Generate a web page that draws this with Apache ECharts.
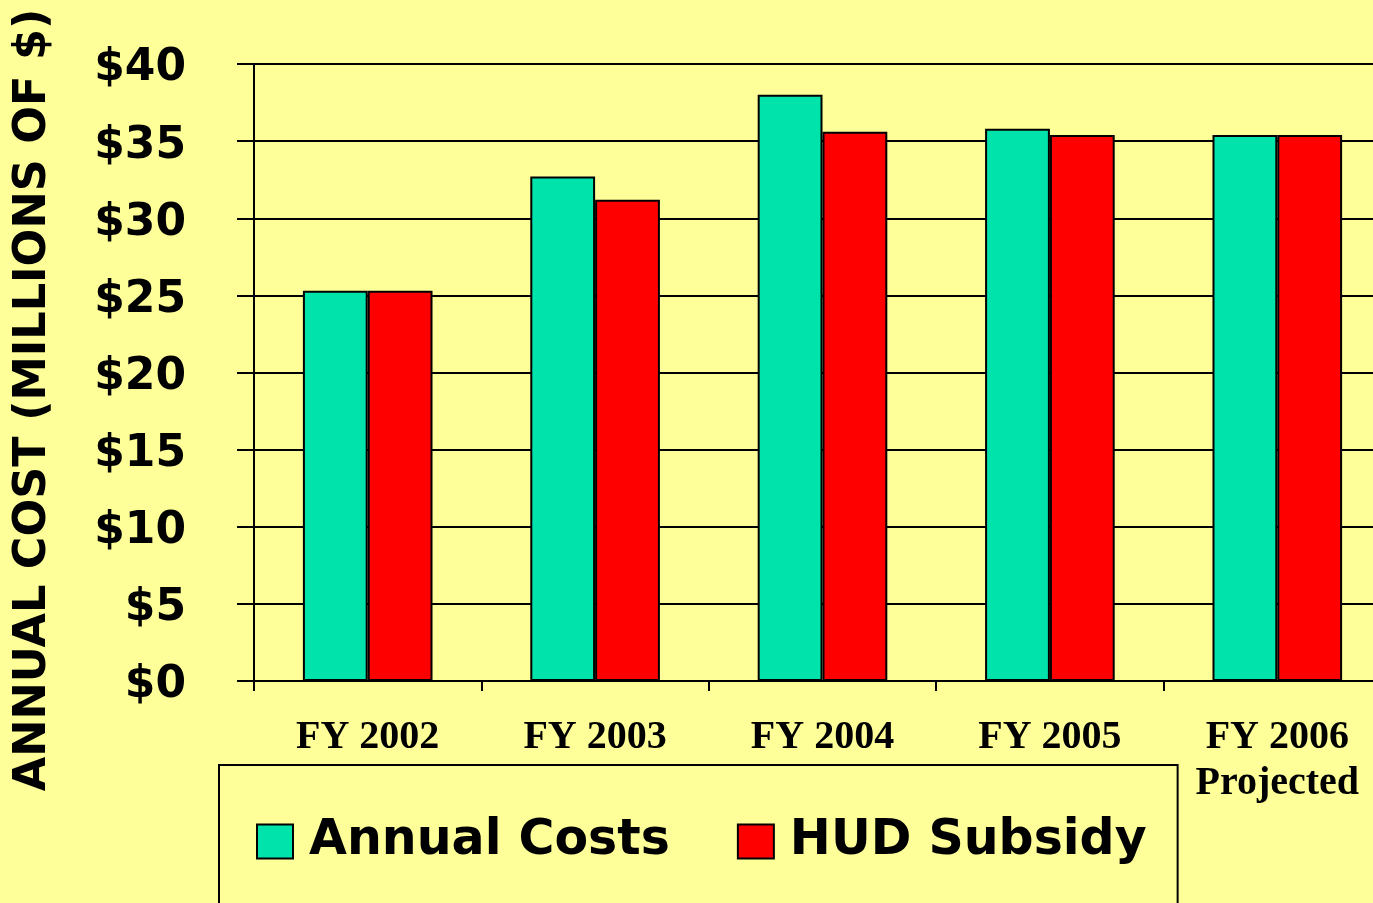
<!DOCTYPE html>
<html>
<head>
<meta charset="utf-8">
<script src="https://cdn.jsdelivr.net/npm/echarts@6/dist/echarts.min.js"></script>
<style>
  html, body { margin: 0; padding: 0; background: #ffff99; }
  #main { width: 1373px; height: 903px; }
</style>
</head>
<body>
<div id="main"></div>
<script>
// data (millions of $)
var categories = ["FY 2002", "FY 2003", "FY 2004", "FY 2005", "FY 2006\nProjected"];
var annualCosts = [25.3, 32.7, 38.0, 35.8, 35.4];
var hudSubsidy = [25.3, 31.2, 35.6, 35.4, 35.4];
var yTicks = [0, 5, 10, 15, 20, 25, 30, 35, 40];

var myChart = echarts.init(document.getElementById("main"));
var option = {
  backgroundColor: "#ffff99",
  animation: false,
  grid: {
    left: 254,
    top: 64,
    bottom: 222,
    width: 1137,
    containLabel: false,
    outerBoundsMode: "none",
  },
  legend: {
    left: 219,
    top: 765,
    orient: "horizontal",
    backgroundColor: "#ffff99",
    borderColor: "#000",
    borderWidth: 2,
    borderRadius: 0,
    padding: [52, 31, 80, 37],
    itemGap: 67,
    itemWidth: 36,
    itemHeight: 34,
    icon: "rect",
    textStyle: {
      fontFamily: "DejaVu Sans",
      fontWeight: "bold",
      fontSize: 49,
      color: "#000",
      padding: [0, 0, 0, 11],
    },
    data: ["Annual Costs", "HUD Subsidy"],
  },
  xAxis: {
    type: "category",
    data: categories,
    axisLine: { lineStyle: { color: "#000", width: 2 } },
    axisTick: { show: true, length: 10, lineStyle: { color: "#000", width: 2 } },
    axisLabel: {
      margin: 34,
      fontFamily: "Liberation Serif",
      fontWeight: "bold",
      fontSize: 40,
      lineHeight: 46,
      color: "#000",
    },
  },
  yAxis: {
    type: "value",
    min: yTicks[0],
    max: yTicks[yTicks.length - 1],
    interval: 5,
    axisLine: { show: true, lineStyle: { color: "#000", width: 2 } },
    axisTick: { show: true, length: 17, lineStyle: { color: "#000", width: 2 } },
    splitLine: { show: true, lineStyle: { color: "#000", width: 2 } },
    axisLabel: {
      margin: 68,
      color: "#000",
      formatter: function (v) {
        return "{v|$" + v + "}";
      },
      rich: {
        v: {
          fontFamily: "DejaVu Sans",
          fontWeight: "bold",
          fontSize: 44,
          color: "#000",
          padding: [10, 0, 0, 0],
        },
      },
    },
  },
  graphic: [
    {
      type: "text",
      x: 33,
      y: 400,
      rotation: Math.PI / 2,
      style: {
        text: "ANNUAL COST (MILLIONS OF $)",
        fontFamily: "DejaVu Sans",
        fontWeight: "bold",
        fontSize: 44.5,
        fill: "#000",
        align: "center",
        verticalAlign: "middle",
      },
    },
  ],
  series: [
    {
      name: "Annual Costs",
      type: "bar",
      data: annualCosts,
      barGap: "0%",
      barCategoryGap: "43%",
      itemStyle: { color: "#00e3aa", borderColor: "#000", borderWidth: 2 },
    },
    {
      name: "HUD Subsidy",
      type: "bar",
      data: hudSubsidy,
      itemStyle: { color: "#ff0000", borderColor: "#000", borderWidth: 2 },
    },
  ],
};

option && myChart.setOption(option);
</script>
</body>
</html>
